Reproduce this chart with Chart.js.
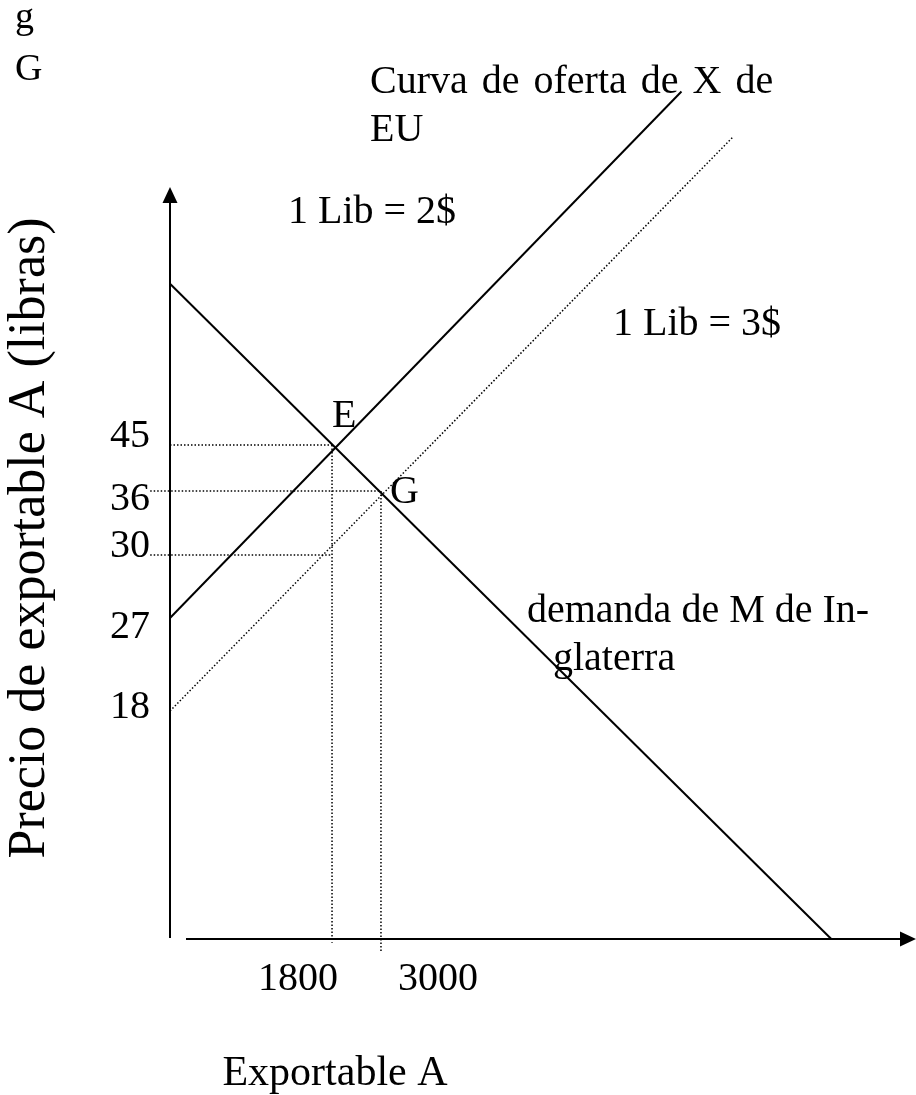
<!DOCTYPE html>
<html lang="es">
<head>
<meta charset="utf-8">
<title>Exportable A: oferta de EU y demanda de Inglaterra</title>
<script src="https://cdn.jsdelivr.net/npm/chart.js@4.4.1/dist/chart.umd.min.js"></script>
<style>
  html, body { margin: 0; padding: 0; background: #fff; }
  #wrap { width: 916px; height: 1095px; position: relative; }
</style>
</head>
<body>
<div id="wrap"><canvas id="chart"></canvas></div>
<script>
/* ── Datos ── */
const priceTicks = [45, 36, 30, 27, 18];
const qtyTicks = [1800, 3000];

// Curva de oferta de X de EU con 1 Lib = 2$
const supply2Qty = [0, 6370];
const supply2Price = [27, 72.4];
// misma oferta con 1 Lib = 3$
const supply3Qty = [0, 6950];
const supply3Price = [18, 68.9];
// demanda de M de Inglaterra
const demandQty = [0, 8050];
const demandPrice = [57.5, 0];

// equilibrios E y G, y precio de E con 1 Lib = 3$
const eqNames = ["E", "G"];
const eqQty = [1800, 3000];
const eqPrice = [45, 36];
const shiftedPrice = 30;

// las punteadas horizontales empiezan aquí (45, 36, 30) y las verticales bajan hasta aquí
const guideLeftQty = [0, -220, -220];
const guideLowPrice = [-0.3, -1.1];

/* ── Escala esquemática: el dibujo no está a escala, se calibra por tramos ── */
const axisStops = {
  x: { values: [0, 1800, 3000, 9000], at: [0, 0.2172, 0.2828, 1] },
  y: { values: [0, 18, 27, 30, 36, 45, 65], at: [0, 0.3032, 0.4269, 0.5106, 0.5957, 0.6569, 1] },
};

// los números del eje vertical no están centrados en sus líneas (px hacia abajo)
const priceLabelNudge = [2, 19, 2, 20, 7];

function lerpStops(v, from, to) {
  let i = 1;
  while (i < from.length - 1 && v > from[i]) i++;
  const t = (v - from[i - 1]) / (from[i] - from[i - 1]);
  return to[i - 1] + t * (to[i] - to[i - 1]);
}

class SchematicScale extends Chart.LinearScale {
  static id = "schematic";
  getPixelForValue(value) {
    const s = axisStops[this.axis];
    const f = lerpStops(value, s.values, s.at);
    return this.isHorizontal() ? this.left + f * this.width : this.bottom - f * this.height;
  }
  getValueForPixel(pixel) {
    const s = axisStops[this.axis];
    const f = this.isHorizontal() ? (pixel - this.left) / this.width : (this.bottom - pixel) / this.height;
    return lerpStops(f, s.at, s.values);
  }
}
Chart.register(SchematicScale);

const pts = (qs, ps) => qs.map((q, i) => ({ x: q, y: ps[i] }));

const solid = { borderColor: "#000", borderWidth: 2 };
const dotted = { borderColor: "#000", borderWidth: 1.5, borderDash: [1.5, 2] };

const datasets = [
  { ...solid, data: pts(supply2Qty, supply2Price) },
  { ...dotted, data: pts(supply3Qty, supply3Price) },
  { ...solid, data: pts(demandQty, demandPrice) },
  // guías punteadas
  { ...dotted, data: pts([guideLeftQty[0], eqQty[0]], [eqPrice[0], eqPrice[0]]) },
  { ...dotted, data: pts([eqQty[0], eqQty[0]], [eqPrice[0], guideLowPrice[0]]) },
  { ...dotted, data: pts([guideLeftQty[1], eqQty[1]], [eqPrice[1], eqPrice[1]]) },
  { ...dotted, data: pts([eqQty[1], eqQty[1]], [eqPrice[1], guideLowPrice[1]]) },
  { ...dotted, data: pts([guideLeftQty[2], eqQty[0]], [shiftedPrice, shiftedPrice]) },
].map((d) => ({ ...d, showLine: true, pointRadius: 0, fill: false, clip: false }));

const serif = (px) => `${px}px 'Liberation Serif', 'Times New Roman', serif`;

// ejes con flechas y todos los textos
const framePlugin = {
  id: "frame",
  beforeDatasetsDraw(chart) {
    const { ctx, chartArea: a } = chart;
    ctx.save();
    ctx.strokeStyle = "#000";
    ctx.fillStyle = "#000";
    ctx.lineWidth = 2;
    ctx.beginPath();
    ctx.moveTo(a.left, a.top + 14);
    ctx.lineTo(a.left, a.bottom - 1);
    ctx.moveTo(a.left + 16, a.bottom);
    ctx.lineTo(a.right - 14, a.bottom);
    ctx.stroke();
    ctx.beginPath();
    ctx.moveTo(a.left, a.top);
    ctx.lineTo(a.left - 7.5, a.top + 16);
    ctx.lineTo(a.left + 7.5, a.top + 16);
    ctx.closePath();
    ctx.moveTo(a.right, a.bottom);
    ctx.lineTo(a.right - 16, a.bottom - 7.5);
    ctx.lineTo(a.right - 16, a.bottom + 7.5);
    ctx.closePath();
    ctx.fill();
    ctx.restore();
  },
  afterDatasetsDraw(chart) {
    const { ctx, chartArea: a, scales: { x, y } } = chart;
    ctx.save();
    ctx.fillStyle = "#000";
    ctx.textBaseline = "alphabetic";

    // marcas del eje de precios
    ctx.font = serif(40);
    ctx.textAlign = "right";
    priceTicks.forEach((p, i) =>
      ctx.fillText(String(p), a.left - 20, y.getPixelForValue(p) + priceLabelNudge[i]),
    );

    // marcas del eje de cantidades (muy juntas: una a cada lado)
    ctx.fillText(String(qtyTicks[0]), x.getPixelForValue(qtyTicks[0]) + 6, a.bottom + 51);
    ctx.textAlign = "left";
    ctx.fillText(String(qtyTicks[1]), x.getPixelForValue(qtyTicks[1]) + 17, a.bottom + 51);

    // E y G junto a los cruces
    ctx.fillText(eqNames[0], x.getPixelForValue(eqQty[0]), y.getPixelForValue(eqPrice[0]) - 18);
    ctx.fillText(eqNames[1], x.getPixelForValue(eqQty[1]) + 9, y.getPixelForValue(eqPrice[1]) + 12);

    // rótulos de las curvas
    ctx.wordSpacing = "4px";
    ctx.fillText("Curva de oferta de X de", 370, 93);
    ctx.wordSpacing = "0px";
    ctx.fillText("EU", 370, 141);
    ctx.fillText("1 Lib = 2$", 288, 223);
    ctx.fillText("1 Lib = 3$", 613, 335);
    ctx.fillText("demanda de M de In-", 527, 622);
    ctx.fillText("glaterra", 553, 670);

    ctx.font = serif(38);
    ctx.fillText("g", 15, 28);
    ctx.fillText("G", 15, 80);

    // títulos de ejes
    ctx.font = serif(42);
    ctx.textAlign = "center";
    ctx.fillText("Exportable A", 335, 1085);

    ctx.font = serif(52);
    ctx.translate(44, 538);
    ctx.rotate(-Math.PI / 2);
    ctx.fillText("Precio de exportable A (libras)", 0, 0);
    ctx.restore();
  },
};

new Chart(document.getElementById("chart"), {
  type: "scatter",
  data: { datasets },
  options: {
    responsive: true,
    maintainAspectRatio: false,
    animation: false,
    events: [],
    layout: { padding: { left: 170, top: 187, right: 0, bottom: 156 } },
    scales: {
      x: { type: "schematic", min: -500, max: 9000, display: false },
      y: { type: "schematic", min: -2, max: 65, display: false },
    },
    plugins: { legend: { display: false }, tooltip: { enabled: false } },
  },
  plugins: [framePlugin],
});
</script>
</body>
</html>
